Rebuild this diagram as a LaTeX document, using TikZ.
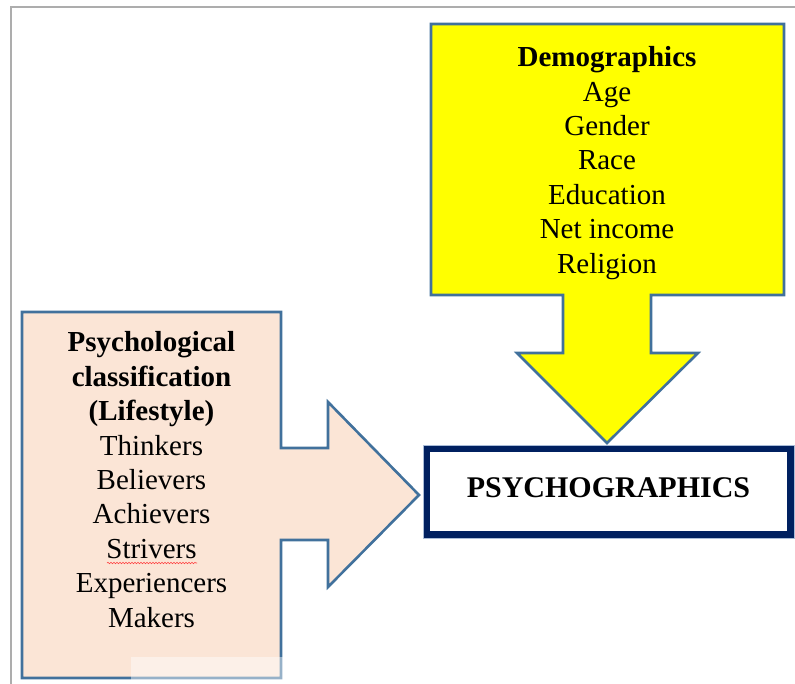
\documentclass[tikz,border=0pt]{standalone}
\usepackage{fontspec}
\setmainfont{Liberation Serif}
\usetikzlibrary{decorations.pathmorphing}
\definecolor{outl}{HTML}{41719C}
\definecolor{peach}{HTML}{FBE5D6}
\definecolor{yel}{HTML}{FFFF00}
\definecolor{navy}{HTML}{002060}
\definecolor{framegray}{HTML}{ADADAD}
\definecolor{lightline}{HTML}{A9BCD8}
\tikzset{
  callout/.style={draw=outl, line width=2.6pt, line join=miter},
  txt/.style={align=center, inner sep=0pt, font=\fontsize{29}{34.4}\selectfont},
  psybox/.style={draw=navy, fill=white, line width=7pt, minimum width=364pt, minimum height=86pt,
    inner sep=0pt, font=\fontsize{30}{36}\selectfont\bfseries},
}
\begin{document}
\begin{tikzpicture}[x=1pt,y=-1pt]
\useasboundingbox (0,0) rectangle (795,684);
% page frame
\draw[framegray, line width=2pt] (11,684) -- (11,7) -- (795,7);
% yellow down callout
\draw[callout, fill=yel] (431,24) -- (784,24) -- (784,295) -- (651,295) -- (651,353) -- (698,353)
  -- (607,443) -- (517,353) -- (563,353) -- (563,295) -- (431,295) -- cycle;
% peach right callout
\draw[callout, fill=peach] (22,312) -- (281,312) -- (281,448) -- (328,448) -- (328,402)
  -- (419,495) -- (328,587) -- (328,540) -- (281,540) -- (281,678) -- (22,678) -- cycle;
% texts
\node[txt] (demo) at (607,163) {\textbf{Demographics}\\Age\\Gender\\Race\\Education\\Net income\\Religion};
\node[txt] (psyc) at (151.5,479.5) {\textbf{Psychological}\\\textbf{classification}\\\textbf{(Lifestyle)}\\Thinkers\\Believers\\Achievers\\Strivers\\Experiencers\\Makers};
% spell-check underline
\coordinate (u1) at (107,563);
\coordinate (u2) at (197,563);
\draw[red!75, line width=0.6pt, decorate, decoration={snake, amplitude=0.7pt, segment length=3pt}] (u1) -- (u2);
% psychographics box
\node[psybox] (psy) at (608.5,491.5) {\raisebox{3.5pt}[\height][\depth]{PSYCHOGRAPHICS}};
\draw[lightline, line width=0.8pt] (psy.north west) rectangle (psy.south east);
% faint overlay at bottom
\fill[white, opacity=0.45] (131,657) rectangle (300,684);
\end{tikzpicture}
\end{document}
